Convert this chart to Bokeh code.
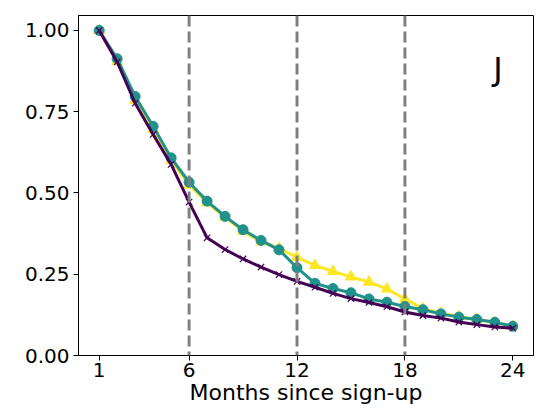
from bokeh.plotting import figure
from bokeh.models import Span, FixedTicker, Range1d, Label
from bokeh.embed import file_html
from bokeh.resources import INLINE

# Retention curves by month since sign-up
months = list(range(1, 25))
series_a = [1.000, 0.905, 0.785, 0.695, 0.600, 0.525, 0.470, 0.425, 0.382, 0.350, 0.330, 0.302,
            0.277, 0.259, 0.242, 0.226, 0.205, 0.174, 0.144, 0.130, 0.120, 0.111, 0.102, 0.090]
series_b = [1.000, 0.913, 0.797, 0.705, 0.608, 0.533, 0.475, 0.428, 0.387, 0.354, 0.325, 0.270,
            0.222, 0.206, 0.193, 0.174, 0.164, 0.151, 0.141, 0.128, 0.118, 0.111, 0.102, 0.090]
series_c = [1.000, 0.903, 0.776, 0.680, 0.588, 0.472, 0.362, 0.326, 0.297, 0.272, 0.249, 0.228,
            0.210, 0.191, 0.175, 0.163, 0.150, 0.134, 0.123, 0.115, 0.103, 0.095, 0.088, 0.084]
x_ticks = [1, 6, 12, 18, 24]
y_ticks = [0.0, 0.25, 0.5, 0.75, 1.0]
milestones = [6, 12, 18]
panel_tag = "J"

FONT = "DejaVu Sans"

p = figure(width=542, height=411, output_backend="svg", toolbar_location=None,
           x_range=Range1d(-0.15, 25.15), y_range=Range1d(0, 1.046),
           min_border_left=78, min_border_right=9, min_border_top=15, min_border_bottom=56)

p.background_fill_color = "white"
p.border_fill_color = "white"
p.outline_line_color = "black"
p.outline_line_width = 1
p.grid.visible = False

for ax in (p.xaxis[0], p.yaxis[0]):
    ax.major_label_text_font = FONT
    ax.major_label_text_font_size = "20px"
    ax.major_label_text_color = "black"
    ax.axis_line_color = "black"
    ax.major_tick_line_color = "black"
    ax.major_tick_out = 5
    ax.major_tick_in = 0
    ax.minor_tick_out = 0
    ax.minor_tick_in = 0
    ax.major_label_standoff = 4

p.xaxis.major_label_standoff = 2
p.xaxis.ticker = FixedTicker(ticks=x_ticks)
p.yaxis.ticker = FixedTicker(ticks=y_ticks)
p.yaxis.major_label_overrides = {t: f"{t:.2f}" for t in y_ticks}
p.xaxis.axis_label = "Months since sign-up"
p.xaxis.axis_label_text_font = FONT
p.xaxis.axis_label_text_font_size = "22px"
p.xaxis.axis_label_text_font_style = "normal"
p.xaxis.axis_label_text_color = "black"
p.xaxis.axis_label_standoff = 0

for m in milestones:
    p.add_layout(Span(location=m, dimension="height", line_color="#808080",
                      line_width=3, line_dash="11 5"))

yellow, teal, purple = "#fde725", "#21918c", "#440154"

p.line(months, series_a, line_color=yellow, line_width=3)
p.scatter(months, series_a, marker="triangle", size=11, fill_color=yellow, line_color=yellow)

p.line(months, series_b, line_color=teal, line_width=3)
p.scatter(months, series_b, marker="circle", size=10, fill_color=teal, line_color=teal)

p.line(months, series_c, line_color=purple, line_width=3)
p.scatter(months, series_c, marker="x", size=9, line_color=purple, line_width=1.2)

p.add_layout(Label(x=23.17, y=0.882, text=panel_tag, text_font=FONT, text_font_size="32px",
                   text_color="black", text_align="center", text_baseline="alphabetic"))

open("out.html", "w").write(file_html(p, INLINE))
